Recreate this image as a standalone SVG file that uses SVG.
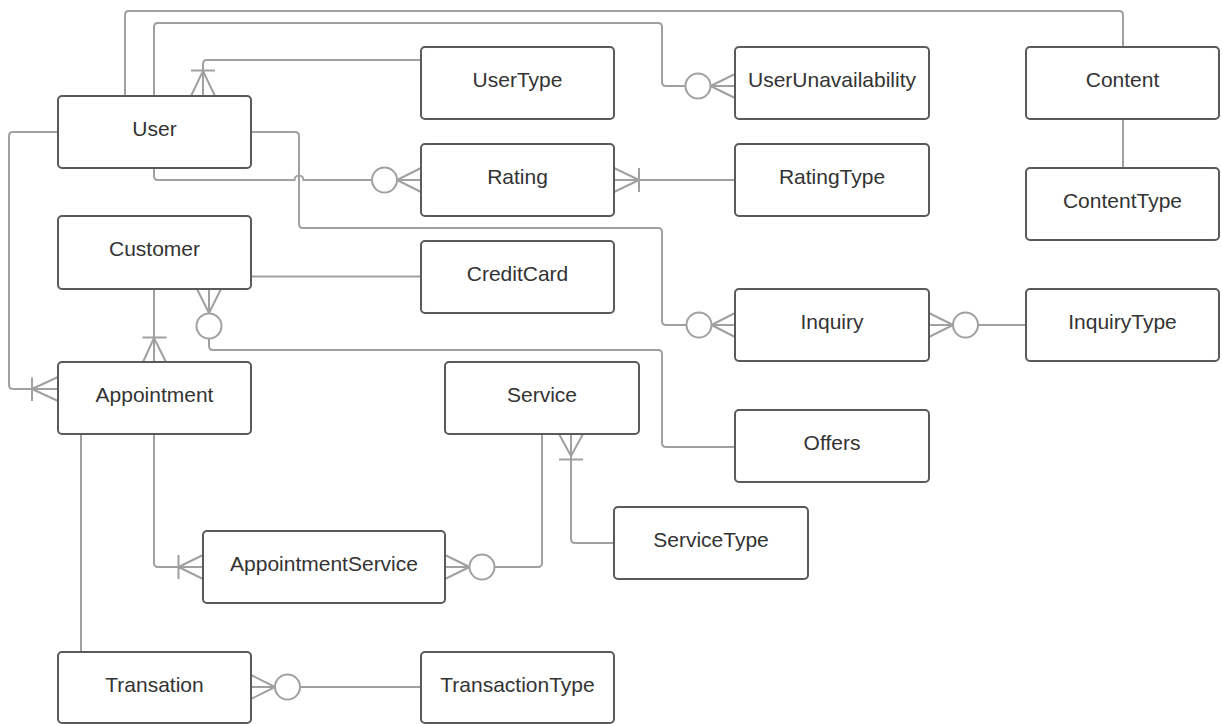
<svg xmlns="http://www.w3.org/2000/svg" width="1222" height="724" viewBox="0 0 1222 724">
  <style>
    .entity rect { fill: #ffffff; stroke: #5a5a5a; stroke-width: 2; }
    .entity text { font-family: "Liberation Sans", Arial, sans-serif; font-size: 21px; fill: #333333; text-anchor: middle; }
    .links path, .links line { fill: none; stroke: #a0a0a0; stroke-width: 2; }
    .links circle { fill: #ffffff; stroke: #a0a0a0; stroke-width: 2; }
  </style>
  <rect width="1222" height="724" fill="#ffffff"/>

  <!-- relationships -->
  <g id="connectors" class="links">
    <!-- User - Content -->
    <path d="M125,96 V15 Q125,11 129,11 H1119 Q1123,11 1123,15 V47"/>
    <!-- User - UserUnavailability (zero or many) -->
    <path d="M154,96 V27 Q154,23 158,23 H658 Q662,23 662,27 V82 Q662,86 666,86 H685.5"/>
    <circle cx="698" cy="86" r="12.5"/>
    <path d="M710.5,86 H735 M710.5,86 L735,74 M710.5,86 L735,98"/>
    <!-- UserType - User (one or many) -->
    <path d="M421,60 H207 Q203,60 203,64 V96"/>
    <path d="M191,70.5 H215 M203,71 L191,96 M203,71 L215,96"/>
    <!-- User - Rating (zero or many), hopping the User-Inquiry line -->
    <path d="M154,168 V176 Q154,180 158,180 H294.5 A4.5,4.5 0 0 1 303.5,180 H372"/>
    <circle cx="384.5" cy="180" r="12.5"/>
    <path d="M397,180 H421 M397,180 L421,168 M397,180 L421,192"/>
    <!-- User - Inquiry (zero or many) -->
    <path d="M251,132 H295 Q299,132 299,136 V224 Q299,228 303,228 H658 Q662,228 662,232 V321 Q662,325 666,325 H686.5"/>
    <circle cx="699" cy="325" r="12.5"/>
    <path d="M711.5,325 H735 M711.5,325 L735,313 M711.5,325 L735,337"/>
    <!-- User - Appointment (one or many) -->
    <path d="M58,132 H13 Q9,132 9,136 V385 Q9,389 13,389 H58"/>
    <path d="M32,377.5 V401 M32,389 L58,377 M32,389 L58,401"/>
    <!-- RatingType - Rating (one or many) -->
    <path d="M735,180 H614"/>
    <path d="M639,168 V192 M639,180 L614,168 M639,180 L614,192"/>
    <!-- Content - ContentType -->
    <path d="M1123,119 V168"/>
    <!-- Customer - CreditCard -->
    <path d="M251,276.5 H421"/>
    <!-- Customer - Appointment (one or many) -->
    <path d="M154,289 V362"/>
    <path d="M142.5,337.5 H166.5 M154,338 L143,362 M154,338 L166,362"/>
    <!-- Customer (zero or many) - Offers -->
    <path d="M209,313 L197,289 M209,313 L221,289 M209,313 V289"/>
    <circle cx="209" cy="326" r="12.5"/>
    <path d="M209,338.5 V346 Q209,350 213,350 H658 Q662,350 662,354 V443 Q662,447 666,447 H735"/>
    <!-- Service (one or many) - ServiceType -->
    <path d="M571,434 V539 Q571,543 575,543 H614"/>
    <path d="M571,456 L559,434 M571,456 L583,434 M559,459.5 H583"/>
    <!-- Service - AppointmentService (zero or many) -->
    <path d="M542,434 V563 Q542,567 538,567 H494.5"/>
    <circle cx="482" cy="567" r="12.5"/>
    <path d="M469.5,567 H445 M469.5,567 L445,555 M469.5,567 L445,579"/>
    <!-- Appointment - AppointmentService (one or many) -->
    <path d="M154,434 V563 Q154,567 158,567 H203"/>
    <path d="M178.5,555 V579 M178.5,567 L203,555 M178.5,567 L203,579"/>
    <!-- Appointment - Transation -->
    <path d="M81,434 V652"/>
    <!-- Transation (zero or many) - TransactionType -->
    <path d="M421,687 H300"/>
    <circle cx="287.5" cy="687" r="12.5"/>
    <path d="M275,687 H251 M275,687 L251,675 M275,687 L251,699"/>
    <!-- Inquiry (zero or many) - InquiryType -->
    <path d="M953,325 H929 M953,325 L929,313 M953,325 L929,337"/>
    <circle cx="965.5" cy="325" r="12.5"/>
    <path d="M978,325 H1026"/>
  </g>

  <!-- entities -->
  <g id="user" class="entity"><rect x="58" y="96" width="193" height="72" rx="4"/><text x="154.5" y="136">User</text></g>
  <g id="usertype" class="entity"><rect x="421" y="47" width="193" height="72" rx="4"/><text x="517.5" y="87">UserType</text></g>
  <g id="userunavailability" class="entity"><rect x="735" y="47" width="194" height="72" rx="4"/><text x="832" y="87">UserUnavailability</text></g>
  <g id="content" class="entity"><rect x="1026" y="47" width="193" height="72" rx="4"/><text x="1122.5" y="87">Content</text></g>
  <g id="rating" class="entity"><rect x="421" y="144" width="193" height="72" rx="4"/><text x="517.5" y="184">Rating</text></g>
  <g id="ratingtype" class="entity"><rect x="735" y="144" width="194" height="72" rx="4"/><text x="832" y="184">RatingType</text></g>
  <g id="contenttype" class="entity"><rect x="1026" y="168" width="193" height="72" rx="4"/><text x="1122.5" y="208">ContentType</text></g>
  <g id="customer" class="entity"><rect x="58" y="216" width="193" height="73" rx="4"/><text x="154.5" y="256">Customer</text></g>
  <g id="creditcard" class="entity"><rect x="421" y="241" width="193" height="72" rx="4"/><text x="517.5" y="281">CreditCard</text></g>
  <g id="inquiry" class="entity"><rect x="735" y="289" width="194" height="72" rx="4"/><text x="832" y="329">Inquiry</text></g>
  <g id="inquirytype" class="entity"><rect x="1026" y="289" width="193" height="72" rx="4"/><text x="1122.5" y="329">InquiryType</text></g>
  <g id="appointment" class="entity"><rect x="58" y="362" width="193" height="72" rx="4"/><text x="154.5" y="402">Appointment</text></g>
  <g id="service" class="entity"><rect x="445" y="362" width="194" height="72" rx="4"/><text x="542" y="402">Service</text></g>
  <g id="offers" class="entity"><rect x="735" y="410" width="194" height="72" rx="4"/><text x="832" y="450">Offers</text></g>
  <g id="servicetype" class="entity"><rect x="614" y="507" width="194" height="72" rx="4"/><text x="711" y="547">ServiceType</text></g>
  <g id="appointmentservice" class="entity"><rect x="203" y="531" width="242" height="72" rx="4"/><text x="324" y="571">AppointmentService</text></g>
  <g id="transation" class="entity"><rect x="58" y="652" width="193" height="71" rx="4"/><text x="154.5" y="692">Transation</text></g>
  <g id="transactiontype" class="entity"><rect x="421" y="652" width="193" height="71" rx="4"/><text x="517.5" y="692">TransactionType</text></g>
</svg>
